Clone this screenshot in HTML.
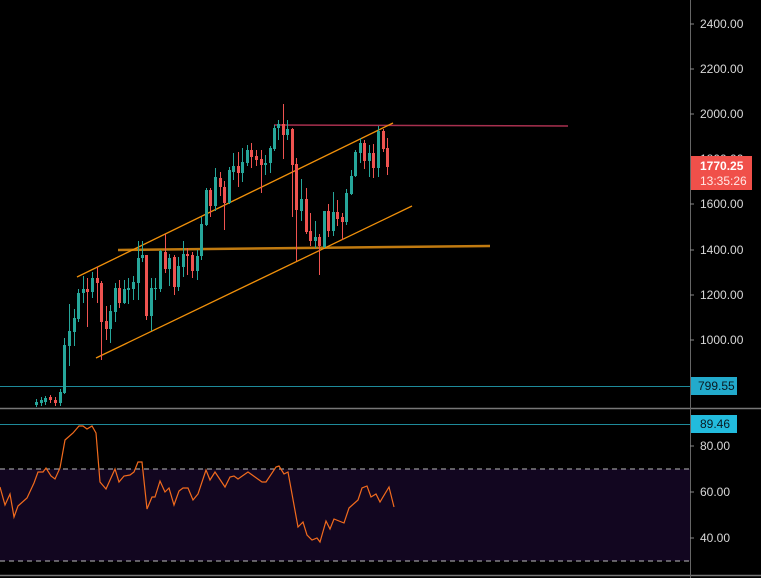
<!DOCTYPE html>
<html><head><meta charset="utf-8"><style>
html,body{margin:0;padding:0;background:#000;}
svg{display:block;font-family:"Liberation Sans",sans-serif;}
</style></head><body>
<svg width="761" height="578" viewBox="0 0 761 578" xmlns="http://www.w3.org/2000/svg">
<rect width="761" height="578" fill="#000"/>
<!-- RSI band -->
<rect x="0" y="469" width="690" height="92" fill="#120620"/>
<line x1="0" y1="469" x2="690" y2="469" stroke="#bbb" stroke-dasharray="5,4" stroke-width="1"/>
<line x1="0" y1="561" x2="690" y2="561" stroke="#bbb" stroke-dasharray="5,4" stroke-width="1"/>
<!-- separators -->
<line x1="0" y1="408.5" x2="761" y2="408.5" stroke="#777" stroke-width="1.5"/>
<line x1="0" y1="575.5" x2="761" y2="575.5" stroke="#777" stroke-width="1.5"/>
<line x1="690.5" y1="0" x2="690.5" y2="578" stroke="#666" stroke-width="1"/>
<line x1="0" y1="386.5" x2="690" y2="386.5" stroke="#1e8a9a" stroke-width="1"/>
<line x1="0" y1="424.5" x2="690" y2="424.5" stroke="#1e8a9a" stroke-width="1"/>
<!-- drawings -->
<line x1="118" y1="250" x2="490" y2="246" stroke="#c07a10" stroke-width="2.5"/>
<line x1="274" y1="125" x2="568" y2="126" stroke="#a8304f" stroke-width="1.5"/>
<line x1="77" y1="277" x2="393" y2="123" stroke="#f0900a" stroke-width="1.3"/>
<line x1="96" y1="358" x2="412" y2="206" stroke="#f0900a" stroke-width="1.3"/>
<!-- wicks -->
<path stroke="#26a69a" stroke-width="1" fill="none" d="M36.5 399V407M41.5 397V406M45.5 396V405M60.5 389V406M64.5 338V394M69.5 304V366M74.5 309V346M78.5 289V322M83.5 276V303M92.5 272V298M110.5 305V343M115.5 283V322M124.5 280V304M128.5 278V304M133.5 276V300M138.5 241V300M142.5 241V262M151.5 278V331M155.5 278V300M160.5 250V292M169.5 254V286M178.5 257V291M183.5 241V277M197.5 250V280M201.5 217V260M206.5 188V226M215.5 168V211M229.5 167V204M233.5 153V180M242.5 148V182M247.5 145V166M265.5 155V175M270.5 146V173M274.5 125V151M278.5 120V140M287.5 120V140M301.5 179V221M315.5 221V248M324.5 211V248M333.5 192V236M346.5 189V225M351.5 170V195M355.5 150V177M360.5 138V163M369.5 145V177M378.5 126V177"/>
<path stroke="#ef5350" stroke-width="1" fill="none" d="M50.5 395V403M55.5 397V406M87.5 278V327M97.5 267V303M101.5 281V360M106.5 306V340M119.5 280V308M146.5 255V320M165.5 234V273M174.5 255V295M187.5 248V275M192.5 252V278M210.5 188V217M220.5 172V196M224.5 181V230M238.5 152V187M251.5 143V168M256.5 150V166M261.5 150V193M283.5 104V159M292.5 128V217M296.5 158V261M306.5 188V234M310.5 213V246M319.5 234V275M328.5 204V237M337.5 200V226M342.5 213V240M364.5 140V169M373.5 144V178M383.5 129V152M387.5 138V175"/>
<g fill="#26a69a">
<rect x="35" y="402" width="3" height="3"/><rect x="40" y="400" width="3" height="3"/><rect x="44" y="398" width="3" height="4"/><rect x="59" y="392" width="3" height="11"/><rect x="63" y="345" width="3" height="48"/><rect x="68" y="331" width="3" height="15"/><rect x="73" y="318" width="3" height="14"/><rect x="77" y="293" width="3" height="26"/><rect x="82" y="289" width="3" height="4"/><rect x="91" y="278" width="3" height="14"/><rect x="109" y="311" width="3" height="18"/><rect x="114" y="288" width="3" height="24"/><rect x="123" y="289" width="3" height="14"/><rect x="127" y="288" width="3" height="2"/><rect x="132" y="282" width="3" height="7"/><rect x="137" y="258" width="3" height="25"/><rect x="141" y="255" width="3" height="3"/><rect x="150" y="288" width="3" height="28"/><rect x="154" y="288" width="3" height="1"/><rect x="159" y="251" width="3" height="38"/><rect x="168" y="258" width="3" height="11"/><rect x="177" y="266" width="3" height="21"/><rect x="182" y="254" width="3" height="13"/><rect x="196" y="256" width="3" height="15"/><rect x="200" y="224" width="3" height="32"/><rect x="205" y="190" width="3" height="35"/><rect x="214" y="177" width="3" height="29"/><rect x="228" y="170" width="3" height="33"/><rect x="232" y="166" width="3" height="6"/><rect x="241" y="162" width="3" height="11"/><rect x="246" y="150" width="3" height="13"/><rect x="264" y="163" width="3" height="2"/><rect x="269" y="148" width="3" height="15"/><rect x="273" y="128" width="3" height="21"/><rect x="277" y="124" width="3" height="4"/><rect x="286" y="129" width="3" height="6"/><rect x="300" y="199" width="3" height="12"/><rect x="314" y="237" width="3" height="4"/><rect x="323" y="211" width="3" height="36"/><rect x="332" y="212" width="3" height="19"/><rect x="345" y="193" width="3" height="29"/><rect x="350" y="176" width="3" height="18"/><rect x="354" y="152" width="3" height="24"/><rect x="359" y="143" width="3" height="10"/><rect x="368" y="153" width="3" height="8"/><rect x="377" y="131" width="3" height="37"/>
</g>
<g fill="#ef5350">
<rect x="49" y="397" width="3" height="3"/><rect x="54" y="400" width="3" height="3"/><rect x="86" y="289" width="3" height="3"/><rect x="96" y="278" width="3" height="5"/><rect x="100" y="283" width="3" height="39"/><rect x="105" y="321" width="3" height="8"/><rect x="118" y="288" width="3" height="15"/><rect x="145" y="255" width="3" height="61"/><rect x="164" y="252" width="3" height="17"/><rect x="173" y="257" width="3" height="30"/><rect x="186" y="254" width="3" height="2"/><rect x="191" y="255" width="3" height="16"/><rect x="209" y="190" width="3" height="16"/><rect x="219" y="178" width="3" height="9"/><rect x="223" y="187" width="3" height="16"/><rect x="237" y="166" width="3" height="7"/><rect x="250" y="150" width="3" height="7"/><rect x="255" y="156" width="3" height="4"/><rect x="260" y="159" width="3" height="6"/><rect x="282" y="124" width="3" height="11"/><rect x="291" y="129" width="3" height="36"/><rect x="295" y="164" width="3" height="46"/><rect x="305" y="199" width="3" height="33"/><rect x="309" y="231" width="3" height="10"/><rect x="318" y="237" width="3" height="9"/><rect x="327" y="211" width="3" height="20"/><rect x="336" y="212" width="3" height="7"/><rect x="341" y="217" width="3" height="5"/><rect x="363" y="143" width="3" height="18"/><rect x="372" y="153" width="3" height="15"/><rect x="382" y="131" width="3" height="18"/><rect x="386" y="148" width="3" height="19"/>
</g>
<!-- RSI line -->
<polyline fill="none" stroke="#f26b1d" stroke-width="1.2" points="0,487 5,505 10,494 14,517 18,506 27,498 34,483 38,472 43,472 46,468 51,476 55,479 60,468 65,440 73,433 79,426 83,426 87,429 92,426 96,433 100,482 106,489 115,469 119,482 124,476 130,475 134,472 138,462 142,462 147,509 152,497 155,497 160,481 165,492 169,488 174,505 179,491 183,488 188,488 193,500 198,494 206,470 210,480 215,472 225,487 230,477 234,476 238,479 248,472 255,477 262,482 266,482 276,467 279,466 284,474 288,472 298,527 303,522 307,535 312,540 317,538 320,542 326,521 330,529 334,519 344,523 349,508 358,500 362,488 367,486 371,497 376,494 380,502 389,487 394,507"/>
<!-- axis labels -->
<g fill="#d8d8d8" font-size="12" stroke="#888">
<line x1="690" y1="24" x2="694" y2="24"/><line x1="690" y1="69" x2="694" y2="69"/><line x1="690" y1="114" x2="694" y2="114"/><line x1="690" y1="204" x2="694" y2="204"/><line x1="690" y1="250" x2="694" y2="250"/><line x1="690" y1="295" x2="694" y2="295"/><line x1="690" y1="340" x2="694" y2="340"/><line x1="690" y1="446" x2="694" y2="446"/><line x1="690" y1="492" x2="694" y2="492"/><line x1="690" y1="538" x2="694" y2="538"/>
</g>
<g fill="#d8d8d8" font-size="12">
<text x="700" y="28">2400.00</text><text x="700" y="73">2200.00</text><text x="700" y="118">2000.00</text><text x="700" y="163">1800.00</text><text x="700" y="208">1600.00</text><text x="700" y="254">1400.00</text><text x="700" y="299">1200.00</text><text x="700" y="344">1000.00</text>
<text x="700" y="450">80.00</text><text x="700" y="496">60.00</text><text x="700" y="542">40.00</text>
</g>
<rect x="691" y="377" width="46" height="18" fill="#22aacc"/>
<text x="698" y="390" font-size="12" fill="#0a1a22">799.55</text>
<rect x="691" y="415" width="46" height="18" fill="#22bbdd"/>
<text x="700" y="428" font-size="12" fill="#0a1a22">89.46</text>
<rect x="691" y="156" width="61" height="34" fill="#f0504a"/>
<text x="700" y="170" font-size="12" fill="#fff" font-weight="bold">1770.25</text>
<text x="700" y="185" font-size="12" fill="#ffe8e6">13:35:26</text>
</svg>
</body></html>
